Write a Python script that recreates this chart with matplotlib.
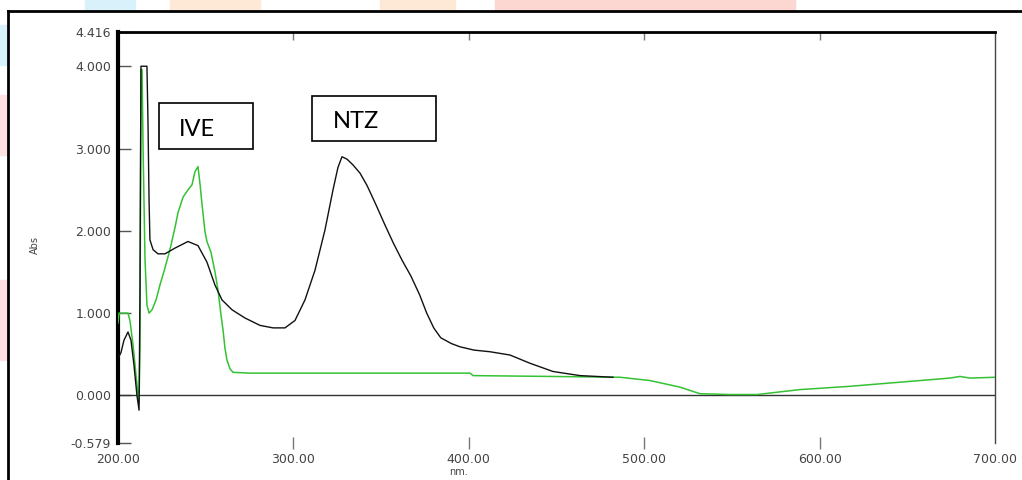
import matplotlib
matplotlib.use('Agg')
import matplotlib.pyplot as plt
from matplotlib.patches import Rectangle
from matplotlib.lines import Line2D, TICKDOWN

# NTZ spectrum (black)
ntz_nm = [200.0, 201.7, 203.4, 205.7, 207.4, 209.1, 210.8, 212.0, 212.5, 213.1,
          216.5, 217.1, 217.7, 218.2, 220.0, 222.8, 226.8, 232.5, 239.9, 245.6,
          250.7, 255.3, 259.3, 265.0, 272.4, 281.0, 288.4, 295.2, 300.9, 306.6,
          312.3, 318.0, 322.6, 325.4, 327.7, 330.6, 334.0, 338.0, 342.0, 347.0,
          352.0, 357.0, 362.0, 367.0, 372.0, 376.0, 380.0, 384.0, 390.0, 395.0,
          403.0, 412.1, 423.5, 434.9, 448.0, 463.4, 482.2]
ntz_abs = [0.45, 0.52, 0.67, 0.77, 0.67, 0.37, 0.00, -0.18, 1.16, 4.00,
           4.00, 3.32, 2.38, 1.89, 1.77, 1.72, 1.72, 1.79, 1.87, 1.82,
           1.62, 1.34, 1.16, 1.04, 0.94, 0.85, 0.82, 0.82, 0.91, 1.16,
           1.52, 2.01, 2.50, 2.77, 2.90, 2.87, 2.80, 2.70, 2.55, 2.32,
           2.08, 1.85, 1.64, 1.45, 1.22, 1.00, 0.82, 0.70, 0.63, 0.59,
           0.55, 0.53, 0.49, 0.39, 0.29, 0.24, 0.22]

# IVE spectrum (green)
ive_nm = [200.0, 200.6, 205.7, 206.8, 208.6, 210.3, 212.0, 212.5, 213.1, 213.7,
          214.3, 215.4, 216.5, 217.7, 219.4, 221.7, 223.9, 226.8, 229.6, 232.5,
          234.2, 237.1, 240.0, 242.2, 243.9, 245.6, 246.8, 247.9, 249.6, 250.7,
          253.0, 255.3, 257.0, 258.7, 259.9, 261.0, 262.1, 263.9, 265.6, 275.3,
          303.8, 360.8, 400.7, 402.4, 446.3, 486.2, 503.3, 520.4, 531.8, 548.9,
          564.3, 588.8, 617.3, 645.8, 674.3, 680.0, 685.7, 700.0]
ive_abs = [0.88, 1.00, 1.00, 0.91, 0.61, 0.24, -0.10, 0.55, 3.96, 3.96,
           2.99, 1.65, 1.10, 1.00, 1.04, 1.16, 1.34, 1.55, 1.77, 2.04,
           2.22, 2.41, 2.50, 2.56, 2.72, 2.78, 2.56, 2.32, 1.99, 1.87,
           1.74, 1.50, 1.28, 0.98, 0.79, 0.57, 0.43, 0.32, 0.28, 0.27,
           0.27, 0.27, 0.27, 0.24, 0.23, 0.22, 0.18, 0.10, 0.02, 0.01,
           0.01, 0.07, 0.11, 0.16, 0.21, 0.23, 0.21, 0.22]

y_ticks = [-0.579, 0.0, 1.0, 2.0, 3.0, 4.0, 4.416]
y_labels = ['-0.579', '0.000', '1.000', '2.000', '3.000', '4.000', '4.416']
x_ticks = [200, 300, 400, 500, 600, 700]
x_labels = ['200.00', '300.00', '400.00', '500.00', '600.00', '700.00']

W, H = 1022, 480
fig = plt.figure(figsize=(W / 100, H / 100), dpi=100)

def fx(px):
    return px / W

def fy(py):
    return 1 - py / H

# faint watermark blobs of the source page
for (x0, y0, w, h, c) in [(0, 25, 8, 40, '#d9f1fb'), (85, 0, 50, 10, '#d9f1fb'),
                          (170, 0, 90, 10, '#fde9d6'), (380, 0, 75, 10, '#fde9d6'),
                          (495, 0, 300, 11, '#fcd6d0'), (0, 95, 8, 60, '#fde3e3'),
                          (0, 280, 8, 80, '#fde3e3')]:
    fig.patches.append(Rectangle((fx(x0), fy(y0 + h)), w / W, h / H,
                                 transform=fig.transFigure, color=c, zorder=0))

# outer frame (left and top edges)
fig.lines.append(Line2D([fx(8), fx(8)], [fy(11), 0], transform=fig.transFigure,
                        color='black', lw=2))
fig.lines.append(Line2D([fx(8), 1], [fy(11), fy(11)], transform=fig.transFigure,
                        color='black', lw=2))

ax = fig.add_axes([fx(118), fy(443), (995 - 118) / W, (443 - 32) / H])
ax.set_facecolor('none')

ax.plot(ive_nm, ive_abs, color='#34c234', lw=1.1, zorder=3)
ax.plot(ntz_nm, ntz_abs, color='#111111', lw=1.0, zorder=4)
ax.axhline(0, color='#333333', lw=1.0, zorder=2)

ax.set_xlim(200, 700)
ax.set_ylim(-0.579, 4.416)

ax.spines['left'].set_linewidth(3)
ax.spines['top'].set_linewidth(2)
ax.spines['right'].set_linewidth(1)
ax.spines['right'].set_color('#444444')
ax.spines['bottom'].set_visible(False)

ax.set_yticks(y_ticks)
ax.set_yticklabels(y_labels)
ax.set_xticks(x_ticks)
ax.set_xticklabels(x_labels)
ax.tick_params(axis='y', direction='in', length=9, width=1, color='#555555',
               labelsize=9, labelcolor='#444444', pad=5)
ax.tick_params(axis='x', direction='inout', length=8, width=1, color='#777777',
               labelsize=9, labelcolor='#444444', pad=3, top=True)
xt = ax.xaxis.get_major_ticks()
for t in xt:
    t.tick2line.set_marker(TICKDOWN)
    t.tick2line.set_markersize(6)
for t in (xt[0], xt[-1]):
    t.tick1line.set_visible(False)
    t.tick2line.set_visible(False)

fig.text(fx(458), fy(472), 'nm.', fontsize=7, color='#444444', ha='center', va='center')
fig.text(fx(35), fy(245), 'Abs', fontsize=7, color='#444444', rotation=90,
         ha='center', va='center')

# labelled boxes
for (x0, y0, x1, y1, label, tx) in [(159, 103, 253, 149, 'IVE', 179),
                                   (312, 96, 436, 141, 'NTZ', 333)]:
    fig.patches.append(Rectangle((fx(x0), fy(y1)), (x1 - x0) / W, (y1 - y0) / H,
                                 transform=fig.transFigure, fill=False,
                                 edgecolor='black', lw=1.2, zorder=5))
    fig.text(fx(tx), fy((y0 + y1) / 2 + 3), label, fontsize=17, family='Lato',
             ha='left', va='center', color='black', zorder=6)

fig.savefig('out.png', dpi=100)
